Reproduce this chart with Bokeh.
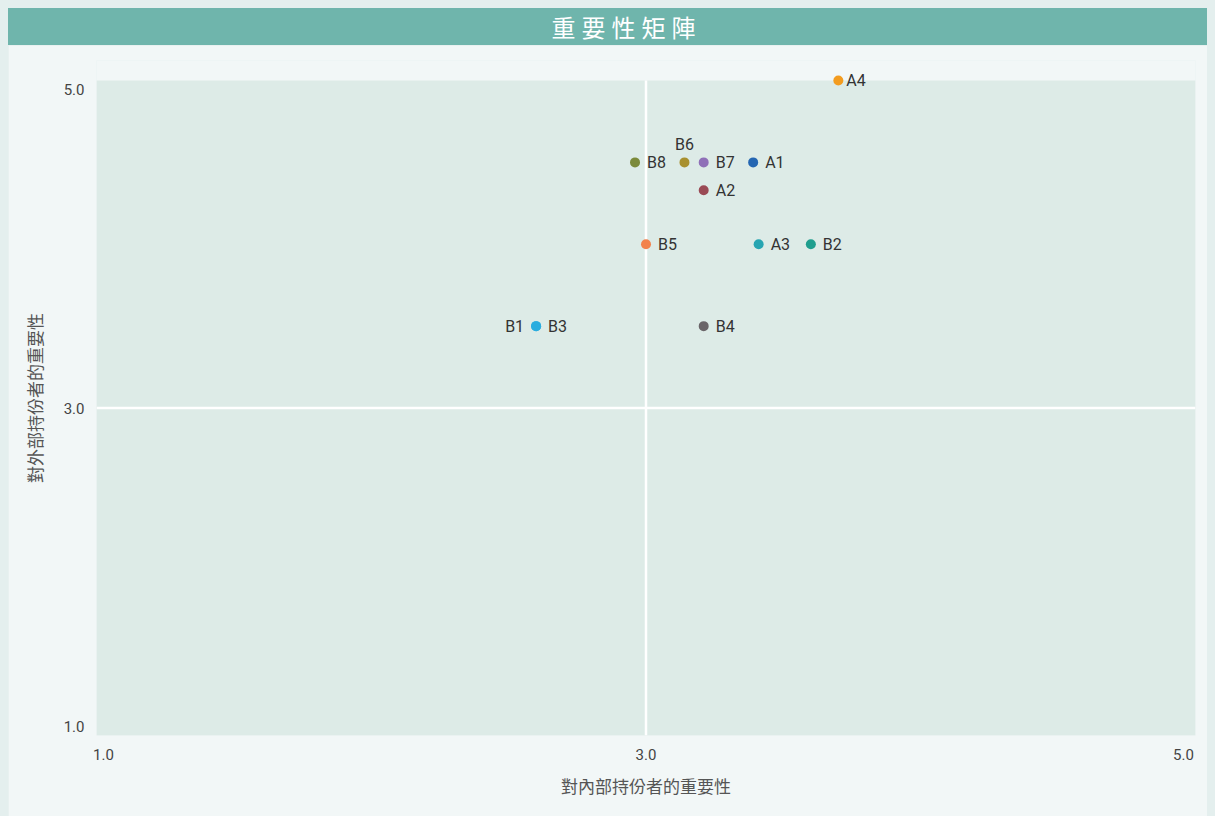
from bokeh.plotting import figure
from bokeh.models import ColumnDataSource, Range1d, FixedTicker, Div, BoxAnnotation
from bokeh.layouts import column
from bokeh.core.properties import value
from bokeh.embed import file_html
from bokeh.resources import INLINE

# ---- data ----
title_text = "重要性矩陣"
x_label = "對內部持份者的重要性"
y_label = "對外部持份者的重要性"
names = ["A4", "B8", "B6", "B7", "A1", "A2", "B5", "A3", "B2", "B1", "B3", "B4"]
internal = [3.70, 2.96, 3.14, 3.21, 3.39, 3.21, 3.00, 3.41, 3.60, 2.60, 2.60, 3.21]
external = [5.00, 4.50, 4.50, 4.50, 4.50, 4.33, 4.00, 4.00, 4.00, 3.50, 3.50, 3.50]
colors = ["#f39c1f", "#7b8a3b", "#a8902f", "#8f70b8", "#2466b2", "#9a4a55",
          "#f2824c", "#27a5b2", "#1f9e8e", "#2aaddf", "#2aaddf", "#6a6569"]
tick_labels = ["1.0", "3.0", "5.0"]
axis_min, axis_mid, axis_max = 1.0, 3.0, 5.0

# label placement (style, not data)
label_side = {"B6": "above", "B1": "left"}

FONT = "Roboto"
CJK = "Noto Sans CJK TC"

xo, yo, ta = [], [], []
for n in names:
    side = label_side.get(n, "right")
    if side == "above":
        xo.append(0); yo.append(-18); ta.append("center")
    elif side == "left":
        xo.append(-12); yo.append(0); ta.append("right")
    else:
        xo.append(12 if n != "A4" else 8); yo.append(0); ta.append("left")

src = ColumnDataSource(dict(x=internal, y=external, name=names, color=colors,
                            xo=xo, yo=yo, ta=ta))

FRAME_W, FRAME_H = 1099, 655
px_x = FRAME_W / (axis_max - axis_min)
px_y = FRAME_H / (axis_max - axis_min)
y_top = axis_max + 20 / px_y   # headroom so marks on the top edge are not clipped

# end tick labels are drawn kept inside the plot box (as in the source chart)
x_tick_pos = [axis_min + 7 / px_x, axis_mid, axis_max - 12 / px_x]
y_tick_pos = [axis_min + 9 / px_y, axis_mid, axis_max - 9 / px_y]

p = figure(width=1207, height=771,
           x_range=Range1d(axis_min, axis_max), y_range=Range1d(axis_min, y_top),
           output_backend="svg", toolbar_location=None,
           min_border_left=88, min_border_right=20, min_border_top=15, min_border_bottom=81)

p.background_fill_color = "#f2f7f7"
p.border_fill_color = "#f2f7f7"
p.outline_line_color = None
p.xgrid.visible = False
p.ygrid.visible = False

p.add_layout(BoxAnnotation(left=axis_min, right=axis_max, bottom=axis_min, top=axis_max,
                           fill_color="#ddebe7", fill_alpha=1.0, line_color=None,
                           level="underlay"))

for ax, pos in ((p.xaxis[0], x_tick_pos), (p.yaxis[0], y_tick_pos)):
    ax.ticker = FixedTicker(ticks=pos)
    ax.major_label_overrides = dict(zip(pos, tick_labels))
    ax.axis_line_color = None
    ax.major_tick_line_color = None
    ax.minor_tick_line_color = None
    ax.major_tick_out = 0
    ax.major_tick_in = 0
    ax.major_label_text_font = FONT
    ax.major_label_text_font_size = "15px"
    ax.major_label_text_color = "#444444"
    ax.axis_label_text_font = CJK
    ax.axis_label_text_font_size = "17px"
    ax.axis_label_text_font_style = "normal"
    ax.axis_label_text_color = "#555555"

p.xaxis.axis_label = x_label
p.yaxis.axis_label = y_label
p.xaxis.major_label_standoff = 13
p.xaxis.axis_label_standoff = 10
p.yaxis.major_label_standoff = 12
p.yaxis.axis_label_standoff = 14
p.yaxis.major_label_orientation = "horizontal"

# quadrant divider lines at the mid value, limited to the plot box
p.segment(x0=[axis_mid, axis_min], y0=[axis_min, axis_mid],
          x1=[axis_mid, axis_max], y1=[axis_max, axis_mid],
          line_color="white", line_width=2.5)

p.scatter("x", "y", source=src, size=10, color="color", line_color=None)
p.text("x", "y", text="name", source=src, x_offset="xo", y_offset="yo",
       text_align="ta", text_baseline="middle", text_font=value(FONT),
       text_font_size="16px", text_color="#333333")

header = Div(
    text=('<div style="box-sizing:border-box;width:1207px;height:37px;line-height:37px;'
          'background:#6fb5ac;color:#ffffff;text-align:center;padding-left:30px;'
          'font-family:\'Noto Sans CJK TC\';font-size:24px;font-weight:400;'
          'letter-spacing:6px;white-space:nowrap;">' + title_text + '</div>'),
    width=1207, height=37, margin=0)
p.margin = 0

layout = column(header, p, spacing=0, margin=0)

html = file_html(layout, INLINE)
i = html.rfind("<body>")
if i >= 0:
    html = html[:i] + '<body style="margin:8px;background:#e4efee;">' + html[i + len("<body>"):]
open("out.html", "w").write(html)
